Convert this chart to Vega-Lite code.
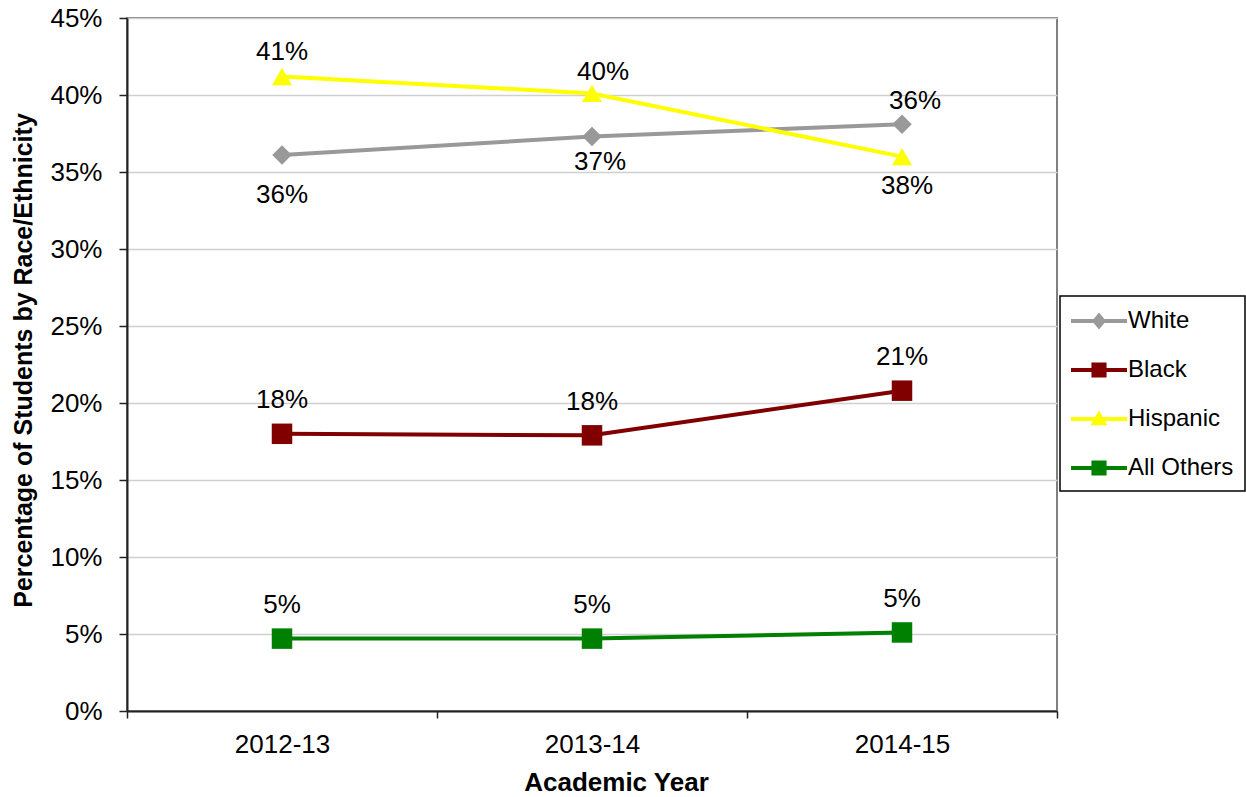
{
  "$schema": "https://vega.github.io/schema/vega-lite/v6.json",
  "width": 930,
  "height": 693,
  "autosize": {"type": "none"},
  "padding": {"left": 127, "top": 18, "right": 189, "bottom": 86},
  "background": "white",
  "config": {
    "font": "Liberation Sans",
    "view": {"stroke": "#808080", "strokeWidth": 2},
    "axis": {"labelFont": "Liberation Sans", "titleFont": "Liberation Sans", "labelColor": "black", "titleColor": "black"},
    "legend": {
      "title": null,
      "strokeColor": "black",
      "strokeWidth": 1.5,
      "fillColor": "white",
      "padding": 11,
      "labelFont": "Liberation Sans",
      "labelFontSize": 24,
      "labelColor": "black",
      "labelOffset": 29,
      "rowPadding": 23,
      "symbolSize": 784,
      "symbolOpacity": 1,
      "symbolStrokeWidth": 0,
      "labelLimit": 300
    }
  },
  "data": {
    "values": [
      {"year": "2012-13", "series": "White", "share": 0.361},
      {"year": "2013-14", "series": "White", "share": 0.373},
      {"year": "2014-15", "series": "White", "share": 0.381},
      {"year": "2012-13", "series": "Black", "share": 0.180},
      {"year": "2013-14", "series": "Black", "share": 0.179},
      {"year": "2014-15", "series": "Black", "share": 0.208},
      {"year": "2012-13", "series": "Hispanic", "share": 0.412},
      {"year": "2013-14", "series": "Hispanic", "share": 0.401},
      {"year": "2014-15", "series": "Hispanic", "share": 0.360},
      {"year": "2012-13", "series": "All Others", "share": 0.047},
      {"year": "2013-14", "series": "All Others", "share": 0.047},
      {"year": "2014-15", "series": "All Others", "share": 0.051}
    ]
  },
  "encoding": {
    "x": {
      "field": "year",
      "type": "nominal",
      "scale": {"type": "band", "domain": ["2012-13", "2013-14", "2014-15"], "paddingInner": 0, "paddingOuter": 0},
      "axis": {
        "title": "Academic Year",
        "labelAngle": 0,
        "tickBand": "extent",
        "grid": false,
        "domainColor": "#222222",
        "domainWidth": 2,
        "tickColor": "#222222",
        "tickWidth": 1.5,
        "tickSize": 7,
        "labelPadding": 13,
        "labelFontSize": 26,
        "titleFontSize": 26,
        "titleFontWeight": "bold",
        "titlePadding": 12,
        "titleX": 489
      }
    },
    "y": {
      "field": "share",
      "type": "quantitative",
      "scale": {"domain": [0, 0.45], "nice": false, "zero": true},
      "axis": {
        "title": "Percentage of Students by Race/Ethnicity",
        "values": [0, 0.05, 0.1, 0.15, 0.2, 0.25, 0.3, 0.35, 0.4, 0.45],
        "format": ".0%",
        "grid": true,
        "gridColor": "#d0d0d0",
        "gridWidth": 1.5,
        "domainColor": "#222222",
        "domainWidth": 2,
        "tickColor": "#222222",
        "tickWidth": 1.5,
        "tickSize": 8,
        "labelPadding": 17,
        "labelFontSize": 26,
        "titleFontSize": 25,
        "titleFontWeight": "bold",
        "titlePadding": 13,
        "titleY": 342
      }
    }
  },
  "layer": [
    {
      "transform": [{"filter": "datum.series != 'Hispanic'"}],
      "mark": {"type": "line", "strokeWidth": 4},
      "encoding": {
        "color": {"field": "series", "type": "nominal", "scale": {"domain": ["White", "Black", "Hispanic", "All Others"], "range": ["#999999", "#800000", "#ffff00", "#008000"]}}
      }
    },
    {
      "transform": [{"filter": "datum.series == 'Hispanic'"}],
      "mark": {"type": "line", "strokeWidth": 4},
      "encoding": {
        "color": {"field": "series", "type": "nominal"}
      }
    },
    {
      "transform": [{"filter": "datum.series == 'White'"}],
      "mark": {"type": "point", "shape": "diamond", "filled": true, "size": 380, "opacity": 1},
      "encoding": {"color": {"field": "series", "type": "nominal"}}
    },
    {
      "transform": [{"filter": "datum.series == 'Black' || datum.series == 'All Others'"}],
      "mark": {"type": "point", "shape": "square", "filled": true, "size": 420, "opacity": 1},
      "encoding": {"color": {"field": "series", "type": "nominal"}}
    },
    {
      "transform": [{"filter": "datum.series == 'Hispanic'"}],
      "mark": {"type": "point", "shape": "triangle-up", "filled": true, "size": 400, "opacity": 1},
      "encoding": {"color": {"field": "series", "type": "nominal"}}
    },
    {
      "mark": {"type": "point", "filled": true, "size": 784, "opacity": 0},
      "encoding": {
        "color": {
          "field": "series",
          "type": "nominal",
          "legend": {"orient": "none", "legendX": 933, "legendY": 278, "title": null, "symbolOpacity": 1}
        },
        "shape": {
          "field": "series",
          "type": "nominal",
          "scale": {
            "domain": ["White", "Black", "Hispanic", "All Others"],
            "range": [
              "M-1,-0.14H3V0.14H-1Z M1,-0.6L1.5,0L1,0.6L0.5,0Z",
              "M-1,-0.14H3V0.14H-1Z M0.46,-0.54H1.54V0.54H0.46Z",
              "M-1,-0.14H3V0.14H-1Z M1,-0.62L1.6,0.45L0.4,0.45Z",
              "M-1,-0.14H3V0.14H-1Z M0.46,-0.54H1.54V0.54H0.46Z"
            ]
          },
          "legend": {"orient": "none", "legendX": 933, "legendY": 278, "title": null, "symbolOpacity": 1}
        }
      }
    },
    {
      "transform": [{"filter": "datum.series == 'Black' || datum.series == 'All Others'"}],
      "mark": {"type": "text", "fontSize": 26, "font": "Liberation Sans", "color": "black", "baseline": "middle", "dy": -33.5},
      "encoding": {"text": {"field": "share", "type": "quantitative", "format": ".0%"}}
    },
    {
      "transform": [{"filter": "datum.series == 'Hispanic' && datum.year == '2012-13'"}],
      "mark": {"type": "text", "fontSize": 26, "font": "Liberation Sans", "color": "black", "baseline": "middle", "dy": -25},
      "encoding": {"text": {"field": "share", "type": "quantitative", "format": ".0%"}}
    },
    {
      "transform": [{"filter": "datum.series == 'Hispanic' && datum.year == '2013-14'"}],
      "mark": {"type": "text", "fontSize": 26, "font": "Liberation Sans", "color": "black", "baseline": "middle", "dy": -21.5, "dx": 11},
      "encoding": {"text": {"field": "share", "type": "quantitative", "format": ".0%"}}
    },
    {
      "transform": [{"filter": "datum.series == 'Hispanic' && datum.year == '2014-15'"}],
      "mark": {"type": "text", "fontSize": 26, "font": "Liberation Sans", "color": "black", "baseline": "middle", "dy": -56, "dx": 13},
      "encoding": {"text": {"field": "share", "type": "quantitative", "format": ".0%"}}
    },
    {
      "transform": [{"filter": "datum.series == 'White' && datum.year == '2012-13'"}],
      "mark": {"type": "text", "fontSize": 26, "font": "Liberation Sans", "color": "black", "baseline": "middle", "dy": 39.5},
      "encoding": {"text": {"field": "share", "type": "quantitative", "format": ".0%"}}
    },
    {
      "transform": [{"filter": "datum.series == 'White' && datum.year == '2013-14'"}],
      "mark": {"type": "text", "fontSize": 26, "font": "Liberation Sans", "color": "black", "baseline": "middle", "dy": 25.5, "dx": 8},
      "encoding": {"text": {"field": "share", "type": "quantitative", "format": ".0%"}}
    },
    {
      "transform": [{"filter": "datum.series == 'White' && datum.year == '2014-15'"}],
      "mark": {"type": "text", "fontSize": 26, "font": "Liberation Sans", "color": "black", "baseline": "middle", "dy": 61.5, "dx": 5},
      "encoding": {"text": {"field": "share", "type": "quantitative", "format": ".0%"}}
    }
  ]
}
